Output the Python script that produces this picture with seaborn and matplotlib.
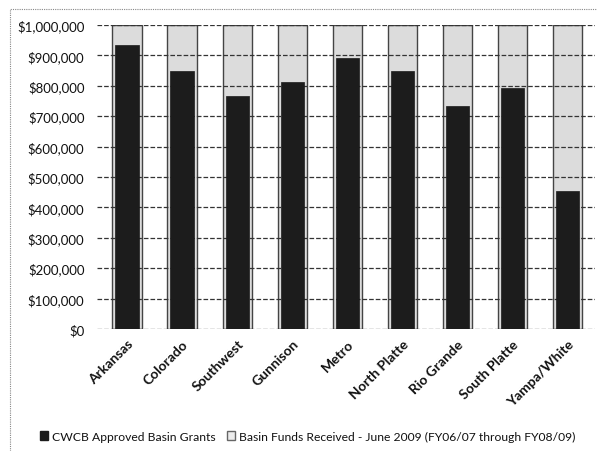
import seaborn as sns
import matplotlib.pyplot as plt
import matplotlib.patches as mpatches
from matplotlib.ticker import FuncFormatter
import pandas as pd

# Data
basins = ["Arkansas", "Colorado", "Southwest", "Gunnison", "Metro",
          "North Platte", "Rio Grande", "South Platte", "Yampa/White"]
approved = [934000, 850000, 767000, 813000, 892000, 849000, 732000, 793000, 454000]
received = [1000000, 1000000, 1000000, 1000000, 1000000, 1000000, 1000000, 1000000, 1000000]
yticks = list(range(0, 1000001, 100000))

df = pd.DataFrame({"basin": basins, "approved": approved, "received": received})

sns.set_theme(style="white")
plt.rcParams["font.family"] = ["Lato", "DejaVu Sans"]

fig = plt.figure(figsize=(5.97, 4.52), dpi=100)
ax = fig.add_axes([0.1625, 0.27, 0.834, 0.6725])

# Gray "received" bars behind, narrower black "approved" bars in front
sns.barplot(data=df, x="basin", y="received", color="#dcdcdc", width=0.53,
            edgecolor="#444444", linewidth=1.0, saturation=1, ax=ax)
n_gray = len(ax.patches)
sns.barplot(data=df, x="basin", y="approved", color="#1c1c1c", width=0.42,
            edgecolor="#1c1c1c", linewidth=0.5, saturation=1, ax=ax)
for i, p in enumerate(ax.patches):
    p.set_zorder(1 if i < n_gray else 3)

ax.set_ylim(0, 1000000)
ax.set_xlim(-0.545, 8.5)
ax.set_yticks(yticks)

# dashed horizontal gridlines, over the gray bars but under the black ones
ax.hlines(yticks, -0.545, 8.5, colors="#333333", linestyles="dashed",
          linewidth=0.9, zorder=2)

ax.yaxis.set_major_formatter(FuncFormatter(lambda v, p: "${:,.0f}".format(v)))
for s in ax.spines.values():
    s.set_visible(False)
ax.tick_params(axis="y", labelsize=9.5, pad=9, length=0)
ax.tick_params(axis="x", labelsize=10, length=0, pad=6)
for lab in ax.get_yticklabels():
    lab.set_color("#111111")
plt.setp(ax.get_xticklabels(), rotation=45, ha="right", rotation_mode="anchor",
         fontweight="bold", color="#111111")
ax.set_xlabel("")
ax.set_ylabel("")

# Legend at the bottom
handles = [mpatches.Patch(facecolor="#1c1c1c", edgecolor="#1c1c1c",
                          label="CWCB Approved Basin Grants"),
           mpatches.Patch(facecolor="#ececec", edgecolor="#666666",
                          label="Basin Funds Received - June 2009 (FY06/07 through FY08/09)")]
fig.legend(handles=handles, loc="center", bbox_to_anchor=(0.515, 0.033), ncol=2,
           frameon=False, fontsize=8.7, handlelength=0.7, handleheight=0.7,
           handletextpad=0.3, columnspacing=0.9, labelcolor="#111111")

# Outer chart frame
frame = mpatches.Rectangle((10 / 597, -0.05), 1.2, 1 - 10 / 452 + 0.05,
                           transform=fig.transFigure, fill=False,
                           edgecolor="#888888", linestyle=(0, (1, 1)), linewidth=0.8)
fig.patches.append(frame)

fig.savefig("out.png", dpi=100)
